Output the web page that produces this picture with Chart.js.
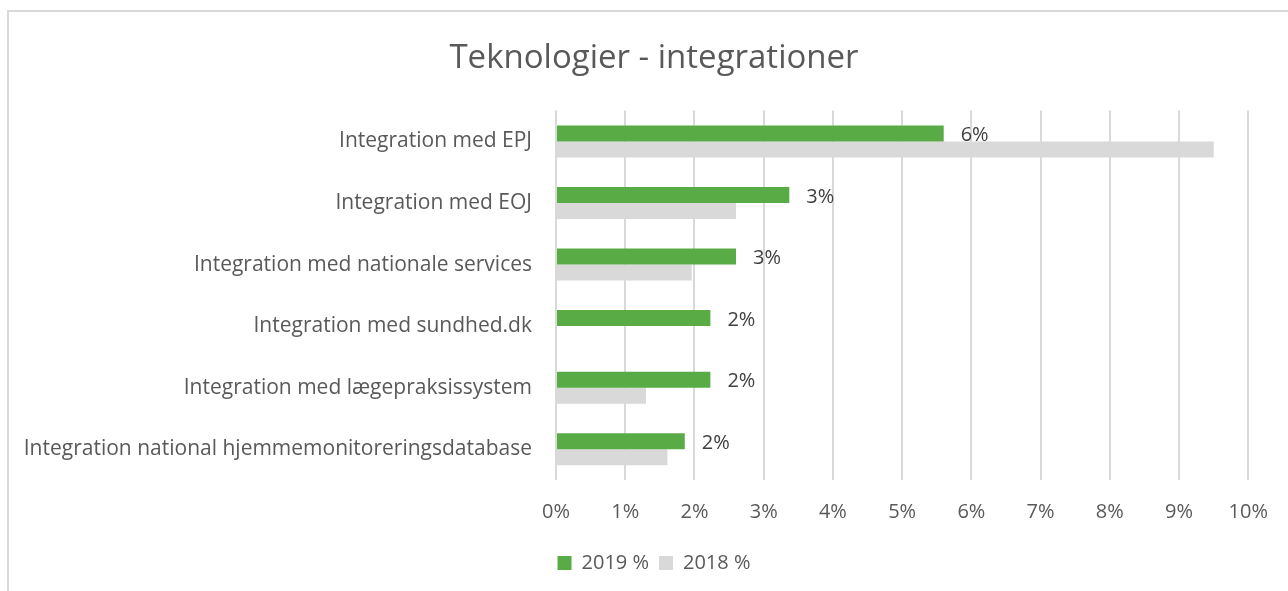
<!DOCTYPE html>
<html>
<head>
<meta charset="utf-8">
<script src="https://cdn.jsdelivr.net/npm/chart.js@4"></script>
<style>
  body { margin: 0; background: #fff; }
  #frame { position: absolute; left: 7px; top: 10px; width: 1300px; height: 600px;
    border-left: 2px solid #d9d9d9; border-top: 2px solid #d9d9d9; }
  #wrap { position: absolute; left: 0; top: 0; width: 1288px; height: 591px; }
</style>
</head>
<body>
<div id="frame"></div>
<div id="wrap"><canvas id="chart" width="1288" height="591"></canvas></div>
<script>
// chart data
const categories = [
  "Integration med EPJ",
  "Integration med EOJ",
  "Integration med nationale services",
  "Integration med sundhed.dk",
  "Integration med lægepraksissystem",
  "Integration national hjemmemonitoreringsdatabase",
];
const values2019 = [5.6, 3.37, 2.6, 2.23, 2.23, 1.86];
const values2018 = [9.5, 2.6, 1.96, 0, 1.3, 1.61];
const seriesNames = ["2019 %", "2018 %"];

const textColor = "#595959";
const fontFamily = "'Open Sans', sans-serif";

// value labels at the end of the 2019 bars
const barLabels = {
  id: "barLabels",
  afterDatasetsDraw(chart) {
    const ctx = chart.ctx;
    const meta = chart.getDatasetMeta(0);
    ctx.save();
    ctx.font = "20px " + fontFamily;
    ctx.fillStyle = "#404040";
    ctx.textAlign = "left";
    ctx.textBaseline = "middle";
    meta.data.forEach((bar, i) => {
      ctx.fillText(Math.round(values2019[i]) + "%", bar.x + 17, bar.y + 2);
    });
    ctx.restore();
  },
};

const ctx = document.getElementById("chart").getContext("2d");
new Chart(ctx, {
  type: "bar",
  data: {
    labels: categories,
    datasets: [
      {
        label: seriesNames[0],
        data: values2019,
        backgroundColor: "#58ab45",
        categoryPercentage: 0.52,
        barPercentage: 1,
      },
      {
        label: seriesNames[1],
        data: values2018,
        backgroundColor: "#d9d9d9",
        categoryPercentage: 0.52,
        barPercentage: 1,
      },
    ],
  },
  options: {
    indexAxis: "y",
    responsive: false,
    animation: false,
    layout: { padding: { left: 24, right: 4, top: 33, bottom: 8 } },
    plugins: {
      title: {
        display: true,
        text: "Teknologier - integrationer",
        color: textColor,
        font: { family: fontFamily, size: 33, weight: "normal" },
        padding: { top: 6, bottom: 32 },
      },
      legend: {
        position: "bottom",
        labels: {
          color: textColor,
          font: { family: fontFamily, size: 20 },
          boxWidth: 14,
          boxHeight: 14,
          padding: 10,
        },
      },
      tooltip: { enabled: false },
    },
    scales: {
      x: {
        min: 0,
        max: 10,
        ticks: {
          stepSize: 1,
          color: textColor,
          padding: 20,
          font: { family: fontFamily, size: 20 },
          callback: (v) => v + "%",
        },
        grid: { color: "#d9d9d9", lineWidth: 2, drawTicks: false },
        border: { display: false },
        afterFit(scale) { scale.height = 63; },
      },
      y: {
        ticks: {
          color: textColor,
          padding: 16,
          font: { family: fontFamily, size: 21 },
        },
        grid: { display: false },
        border: { display: false },
        afterFit(scale) { scale.width = 532; },
      },
      // empty right-hand axis, only reserves space so title and legend centre like the original
      yRight: {
        type: "category",
        position: "right",
        labels: categories,
        ticks: { display: false },
        grid: { display: false },
        border: { display: false },
        afterFit(scale) { scale.width = 34; },
      },
    },
  },
  plugins: [barLabels],
});
</script>
</body>
</html>
